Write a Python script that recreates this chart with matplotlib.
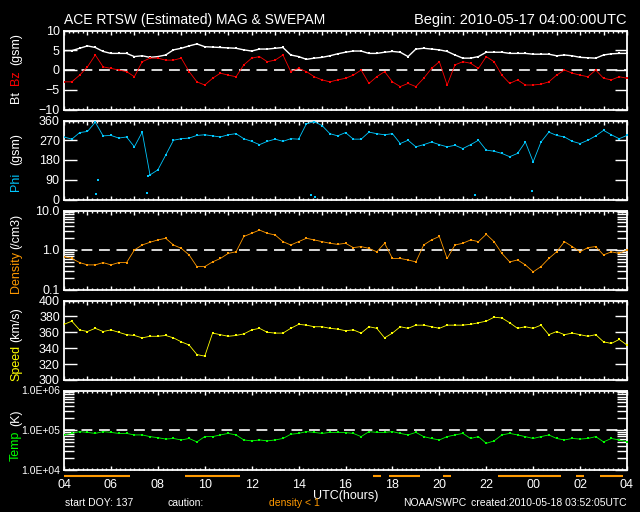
import numpy as np
import matplotlib
matplotlib.use("Agg")
import matplotlib.pyplot as plt
from matplotlib import font_manager
from matplotlib.ticker import MultipleLocator, FixedLocator, LogLocator, NullFormatter, FuncFormatter

# ---- data, one value every 20 min from 04 UTC (hours 0..24) ----
bt = [4.9, 4.9, 5.5, 6.1, 5.7, 4.7, 4.2, 4.2, 4.2, 3.4, 3.6, 3.2, 3.4, 3.8, 5.1, 5.5,
      6.1, 6.6, 5.9, 5.8, 5.7, 5.6, 5.5, 5.1, 4.8, 5.3, 5.3, 5.5, 5.7, 3.8, 3.4, 2.7,
      3.0, 3.2, 3.6, 4.1, 4.5, 4.8, 4.8, 4.2, 4.2, 4.5, 4.7, 4.5, 3.4, 5.3, 5.5, 5.3,
      5.1, 4.7, 3.8, 3.0, 3.0, 3.4, 4.5, 4.5, 4.5, 4.2, 4.2, 4.2, 4.0, 4.0, 4.0, 3.6,
      3.8, 3.6, 3.2, 3.1, 3.0, 3.8, 4.1, 4.2, 4.2]
bz = [-3.0, -3.0, -1.3, 0.8, 3.8, 0.8, 0.4, 0.0, -0.4, -1.7, 2.1, 3.0, 3.0, 2.5, 2.5, 3.0,
      -0.4, -3.0, -3.8, -2.1, -0.8, -1.3, -1.7, 1.3, 3.0, 3.4, 2.1, 2.5, 3.8, -0.4, 0.4, -0.4,
      -1.7, -2.5, -3.0, -2.5, -2.1, -1.3, 0.0, -3.4, -1.7, -0.4, -3.0, -4.2, -3.4, -4.2, -2.1, 0.4,
      2.1, -3.8, 1.3, 2.1, 1.7, 0.4, 3.4, 2.1, -1.3, -3.4, -2.5, -3.8, -3.8, -3.6, -3.0, -1.3,
      0.0, -0.8, -1.3, -1.7, 0.0, -2.1, -2.5, -1.7, -2.1]
phi = [285, 275, 305, 310, 352, 290, 292, 280, 285, 240, 307, 112, 135, 202, 270, 277,
       280, 292, 295, 290, 285, 295, 300, 277, 265, 250, 265, 275, 265, 277, 275, 345,
       355, 337, 300, 290, 305, 275, 275, 307, 300, 295, 300, 255, 270, 240, 250, 262,
       250, 240, 247, 232, 250, 270, 225, 220, 210, 195, 210, 262, 172, 262, 307, 292,
       285, 265, 255, 270, 290, 315, 295, 277, 292]
# phi values that wrapped past 360 (hour, degrees)
phi_wrap_t = [1.38, 1.46, 3.52, 3.58, 10.53, 10.68, 17.5, 19.95]
phi_wrap_v = [25, 90, 30, 105, 22, 10, 22, 37]
density = [0.68, 0.61, 0.48, 0.42, 0.42, 0.48, 0.42, 0.48, 0.48, 1.0, 1.34, 1.57, 1.8, 1.98, 1.34, 1.1,
           0.75, 0.38, 0.38, 0.5, 0.61, 0.82, 0.9, 2.2, 2.65, 3.2, 2.65, 2.4, 1.63, 1.34, 1.63, 1.98,
           1.8, 1.63, 1.48, 1.39, 1.48, 1.15, 1.22, 1.1, 0.9, 1.48, 0.61, 0.61, 0.56, 0.5, 1.34, 1.8,
           2.2, 0.61, 1.34, 1.48, 1.8, 1.63, 2.5, 1.63, 0.82, 0.5, 0.56, 0.42, 0.28, 0.38, 0.61, 0.9,
           1.63, 1.22, 0.9, 1.15, 1.22, 0.75, 0.9, 0.82, 1.0]
speed = [370, 374, 363, 361, 365, 361, 363, 360, 357, 356, 353, 355, 355, 356, 353, 348,
         344, 332, 330, 359, 357, 355, 356, 358, 363, 365, 360, 359, 359, 365, 370, 369,
         367, 367, 365, 364, 362, 363, 359, 367, 365, 353, 359, 367, 365, 369, 369, 367,
         365, 369, 369, 369, 370, 372, 374, 379, 378, 372, 365, 367, 365, 369, 357, 361,
         357, 359, 357, 355, 357, 348, 346, 351, 344]
temp = [7.5e4, 8.2e4, 9.1e4, 8.7e4, 8.2e4, 9.1e4, 8.7e4, 8.2e4, 8.2e4, 7.5e4, 7.5e4, 6.8e4,
        6.4e4, 5.9e4, 6.1e4, 5.6e4, 6.1e4, 5.0e4, 6.8e4, 6.8e4, 7.5e4, 8.2e4, 7.5e4, 5.6e4,
        5.3e4, 5.6e4, 5.3e4, 5.6e4, 6.1e4, 7.8e4, 8.2e4, 9.1e4, 8.7e4, 8.2e4, 8.7e4, 8.7e4,
        8.6e4, 8.2e4, 6.8e4, 9.1e4, 8.7e4, 8.7e4, 9.1e4, 8.2e4, 7.5e4, 8.7e4, 6.8e4, 6.1e4,
        5.6e4, 6.8e4, 7.5e4, 8.2e4, 6.1e4, 6.8e4, 4.6e4, 5.3e4, 7.5e4, 8.2e4, 7.5e4, 6.8e4,
        6.1e4, 6.8e4, 7.5e4, 6.1e4, 5.6e4, 6.1e4, 5.9e4, 6.1e4, 6.8e4, 5.0e4, 6.1e4, 5.6e4,
        5.0e4]
hour_labels = ["04", "06", "08", "10", "12", "14", "16", "18", "20", "22", "00", "02", "04"]

hours = np.arange(len(bt)) / 3.0

RED = "#ff0000"
CYAN = "#00c8ff"
ORANGE = "#ff9900"
YELLOW = "#ffff00"
GREEN = "#00ff00"

# narrow font if there is one, the plot uses a thin vector font
installed = {f.name for f in font_manager.fontManager.ttflist}
for fam in ["Liberation Sans Narrow", "Liberation Sans", "DejaVu Sans"]:
    if fam in installed:
        plt.rcParams["font.family"] = [fam, "DejaVu Sans"]
        break

W, H = 640, 512
fig = plt.figure(figsize=(6.4, 5.12), dpi=100, facecolor="black")


def px_rect(top, bottom, left=64, right=627):
    return [left / W, 1 - bottom / H, (right - left) / W, (bottom - top) / H]


def style_axes(ax):
    ax.set_facecolor("black")
    for sp in ax.spines.values():
        sp.set_color("white")
        sp.set_linewidth(1.3)
    ax.set_xlim(0, 24)
    ax.xaxis.set_major_locator(MultipleLocator(1))
    ax.xaxis.set_minor_locator(MultipleLocator(0.2))
    ax.tick_params(axis="x", which="major", direction="in", length=3, width=1,
                   colors="white", top=True, bottom=True, labelbottom=False)
    ax.tick_params(axis="x", which="minor", direction="in", length=1.5, width=1,
                   colors="white", top=True, bottom=True)
    ax.tick_params(axis="y", which="major", direction="in", length=9, width=1,
                   colors="white", left=True, right=True, labelsize=9, pad=3)
    ax.tick_params(axis="y", which="minor", direction="in", length=7, width=1,
                   colors="white", left=True, right=True)


def dashed(ax, y):
    ax.axhline(y, color="white", lw=1.2, dashes=(6.5, 4), zorder=1)


def series(ax, y, color, lw=0.6):
    ax.plot(hours, y, color=color, lw=lw, marker="s", ms=1.8, mew=0, zorder=3)


axes = [fig.add_axes(px_rect(t, b)) for t, b in
        [(30.5, 109.5), (120.5, 199.5), (210.5, 289.5), (300.5, 380), (390.5, 469.5)]]
for ax in axes:
    style_axes(ax)

# Bt / Bz
ax = axes[0]
dashed(ax, 0)
series(ax, bt, "white", lw=1.0)
series(ax, bz, RED)
ax.set_ylim(-10, 10)
ax.yaxis.set_major_locator(FixedLocator([-10, -5, 0, 5, 10]))

# Phi
ax = axes[1]
series(ax, phi, CYAN)
ax.plot(phi_wrap_t, phi_wrap_v, ls="none", marker="s", ms=1.8, mew=0, color=CYAN)
ax.set_ylim(0, 360)
ax.yaxis.set_major_locator(FixedLocator([0, 90, 180, 270, 360]))

# Density
ax = axes[2]
ax.set_yscale("log")
dashed(ax, 1.0)
series(ax, density, ORANGE)
ax.set_ylim(0.1, 10)
ax.yaxis.set_major_locator(FixedLocator([0.1, 1.0, 10.0]))
ax.yaxis.set_major_formatter(FuncFormatter(lambda v, p: "%.1f" % v))
ax.yaxis.set_minor_locator(LogLocator(base=10, subs=range(2, 10)))
ax.yaxis.set_minor_formatter(NullFormatter())

# Speed
ax = axes[3]
series(ax, speed, YELLOW)
ax.set_ylim(300, 400)
ax.yaxis.set_major_locator(MultipleLocator(20))

# Temperature
ax = axes[4]
ax.set_yscale("log")
dashed(ax, 1e5)
series(ax, temp, GREEN)
ax.set_ylim(1e4, 1e6)
ax.yaxis.set_major_locator(FixedLocator([1e4, 1e5, 1e6]))
ax.yaxis.set_major_formatter(FuncFormatter(lambda v, p: "1.0E+%02d" % round(np.log10(v))))
ax.yaxis.set_minor_locator(LogLocator(base=10, subs=range(2, 10)))
ax.yaxis.set_minor_formatter(NullFormatter())
ax.tick_params(axis="y", which="major", labelsize=7.5)
ax.set_xticks(np.arange(0, 25, 2), labels=hour_labels)
ax.tick_params(axis="x", which="major", labelbottom=True, labelsize=9, pad=7)

# density < 1 marker strip under the bottom panel
strip = fig.add_axes(px_rect(473, 478))
strip.set_xlim(0, 24)
strip.set_ylim(0, 1)
strip.axis("off")
for h, d in zip(hours, density):
    if d < 1:
        strip.hlines(0.5, h - 1 / 6, h + 1 / 6, color=ORANGE, lw=1.5)


def ftext(x, y, s, **kw):
    kw.setdefault("color", "white")
    kw.setdefault("fontsize", 9)
    fig.text(x / W, 1 - y / H, s, **kw)


# titles
ftext(64, 20, "ACE RTSW (Estimated) MAG & SWEPAM", fontsize=10, ha="left", va="center")
ftext(627, 20, "Begin: 2010-05-17 04:00:00UTC", fontsize=10.5, ha="right", va="center")

# y labels, built from coloured pieces
ylab = [
    [("Bt", 97, "white"), ("Bz", 78, RED), ("(gsm)", 49, "white")],
    [("Phi", 182, CYAN), ("(gsm)", 149, "white")],
    [("Density", 272, ORANGE), ("(/cm3)", 231, "white")],
    [("Speed", 363, YELLOW), ("(km/s)", 325, "white")],
    [("Temp", 446, GREEN), ("(K)", 418, "white")],
]
for pieces in ylab:
    for s, y, c in pieces:
        ftext(16, y, s, color=c, rotation=90, ha="center", va="center")

# bottom text
ftext(345.5, 496, "UTC(hours)", ha="center", va="center")
ftext(65, 503, "start DOY: 137", fontsize=7.5, ha="left", va="center")
ftext(167, 503, "caution:", fontsize=7.5, ha="left", va="center")
ftext(269, 503, "density < 1", fontsize=7.5, color=ORANGE, ha="left", va="center")
ftext(403, 503, "NOAA/SWPC", fontsize=7.5, ha="left", va="center")
ftext(627, 503, "created:2010-05-18 03:52:05UTC", fontsize=7.5, ha="right", va="center")

fig.savefig("out.png", dpi=100, facecolor="black")
